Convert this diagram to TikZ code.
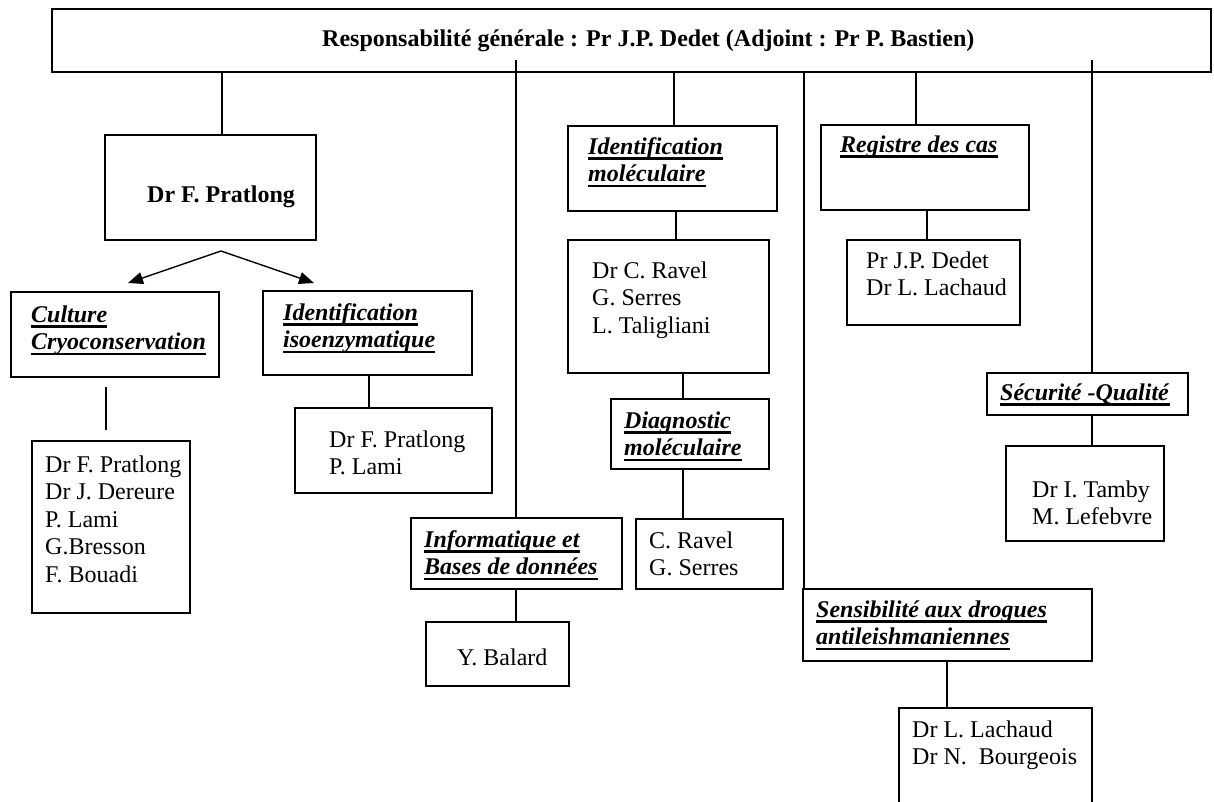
\documentclass[tikz,border=0pt]{standalone}
\usepackage{fontspec}
\setmainfont{Liberation Serif}
\usetikzlibrary{arrows.meta}
\newcommand\hd[1]{\setbox0\hbox{\textbf{\textit{#1}}}\rlap{\rule[-5.5pt]{\wd0}{2.2pt}}\box0}
\newcommand\lns[1]{\begin{tabular}[t]{@{}l@{}}#1\end{tabular}}
\tikzset{
  boxs/.style={draw, line width=1.8pt},
  txt/.style={anchor=base west, inner sep=0pt},
  conn/.style={line width=1.4pt},
  arr/.style={line width=1.4pt, -{Triangle[length=15pt,width=12pt]}}
}
\begin{document}
\begin{tikzpicture}[x=1pt,y=-1pt]
\fontsize{24}{27.6}\selectfont
\renewcommand\arraystretch{1}
\clip (0,0) rectangle (1214,801);
\useasboundingbox (0,0) rectangle (1214,801);
% boxes
\draw[boxs] (52,9) rectangle (1211,72);
\node[txt] (title) at (322,46) {\textbf{Responsabilité générale : Pr J.P. Dedet (Adjoint : Pr P. Bastien)}};
\draw[boxs] (105,135) rectangle (316,240);
\node[txt] (pratlongT) at (147,202) {\textbf{Dr F. Pratlong}};
\draw[boxs] (11,292) rectangle (219,377);
\node[txt] (cultureT) at (31,322) {\lns{\hd{Culture}\\\hd{Cryoconservation}}};
\draw[boxs] (32,441) rectangle (190,613);
\node[txt] (cultstaffT) at (45,472) {\lns{Dr F. Pratlong\\Dr J. Dereure\\P. Lami\\G.Bresson\\F. Bouadi}};
\draw[boxs] (263,291) rectangle (472,375);
\node[txt] (isoT) at (283,320) {\lns{\hd{Identification}\\\hd{isoenzymatique}}};
\draw[boxs] (295,408) rectangle (492,493);
\node[txt] (isostaffT) at (329,447) {\lns{Dr F. Pratlong\\P. Lami}};
\draw[boxs] (568,126) rectangle (777,211);
\node[txt] (idmolT) at (588,154) {\lns{\hd{Identification}\\\hd{moléculaire}}};
\draw[boxs] (568,240) rectangle (769,373);
\node[txt] (ravelT) at (592,278) {\lns{Dr C. Ravel\\G. Serres\\L. Taligliani}};
\draw[boxs] (611,399) rectangle (769,469);
\node[txt] (diagT) at (624,428) {\lns{\hd{Diagnostic}\\\hd{moléculaire}}};
\draw[boxs] (636,519) rectangle (783,589);
\node[txt] (ravel2T) at (649,548) {\lns{C. Ravel\\G. Serres}};
\draw[boxs] (411,518) rectangle (622,589);
\node[txt] (infoT) at (424,547) {\lns{\hd{Informatique et}\\\hd{Bases de données}}};
\draw[boxs] (426,622) rectangle (569,686);
\node[txt] (balardT) at (457,665) {Y. Balard};
\draw[boxs] (821,125) rectangle (1029,210);
\node[txt] (registreT) at (840,152) {\hd{Registre des cas}};
\draw[boxs] (847,240) rectangle (1020,325);
\node[txt] (regstaffT) at (866,268) {\lns{Pr J.P. Dedet\\Dr L. Lachaud}};
\draw[boxs] (987,373) rectangle (1188,415);
\node[txt] (secuT) at (1000,400) {\hd{Sécurité -Qualité}};
\draw[boxs] (1006,446) rectangle (1164,541);
\node[txt] (tambyT) at (1032,497) {\lns{Dr I. Tamby\\M. Lefebvre}};
\draw[boxs] (803,589) rectangle (1092,661);
\node[txt] (sensibT) at (816,617) {\lns{\hd{Sensibilité aux drogues}\\\hd{antileishmaniennes}}};
\draw[boxs] (899,708) rectangle (1092,815);
\node[txt] (lachaudT) at (912,737) {\lns{Dr L. Lachaud\\Dr N.\ \ Bourgeois}};
% connectors
\draw[conn] (222,72) -- (222,135);
\coordinate (apex) at (221,251);
\coordinate (tipL) at (128,283);
\coordinate (tipR) at (314,283);
\draw[arr] (apex) -- (tipL);
\draw[arr] (apex) -- (tipR);
\draw[conn] (106,387) -- (106,430);
\draw[conn] (369,375) -- (369,408);
\draw[conn] (516,60) -- (516,518);
\draw[conn] (674,72) -- (674,126);
\draw[conn] (676,211) -- (676,240);
\draw[conn] (683,373) -- (683,399);
\draw[conn] (683,469) -- (683,519);
\draw[conn] (516,589) -- (516,622);
\draw[conn] (804,72) -- (804,589);
\draw[conn] (916,72) -- (916,125);
\draw[conn] (927,210) -- (927,240);
\draw[conn] (1092,60) -- (1092,373);
\draw[conn] (1092,415) -- (1092,446);
\draw[conn] (947,661) -- (947,708);
\end{tikzpicture}
\end{document}
